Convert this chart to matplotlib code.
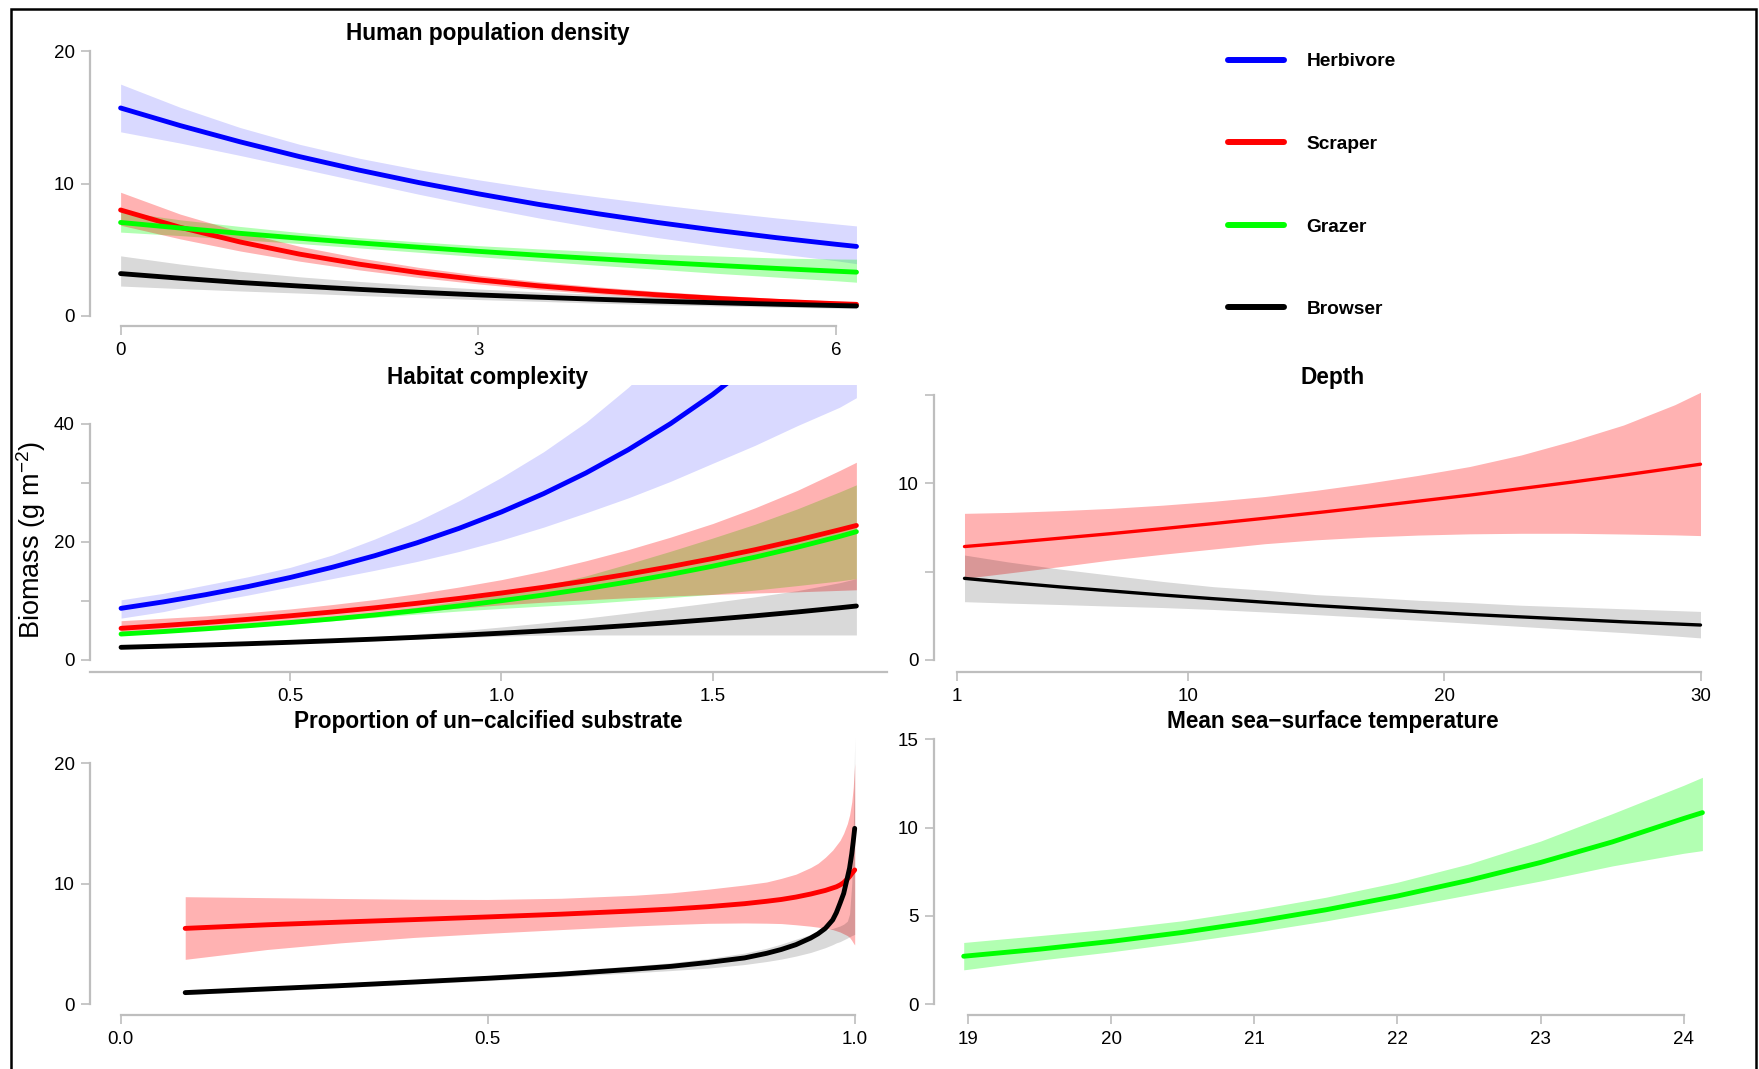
import matplotlib
matplotlib.use("Agg")
import matplotlib.pyplot as plt
from matplotlib.lines import Line2D
from matplotlib.patches import Rectangle

plt.rcParams["font.family"] = ["Liberation Sans", "DejaVu Sans"]
plt.rcParams["mathtext.fontset"] = "custom"
plt.rcParams["mathtext.rm"] = "Liberation Sans"
plt.rcParams["mathtext.it"] = "Liberation Sans:italic"

# ---------------- data ----------------
groups = ["Herbivore", "Scraper", "Grazer", "Browser"]
colors = ["#0000FF", "#FF0000", "#00FF00", "#000000"]
band_alpha = [0.15, 0.30, 0.30, 0.15]

# Panel 1: Human population density
hpd_x = [0, 0.5, 1, 1.5, 2, 2.5, 3, 3.5, 4, 4.5, 5, 5.5, 6, 6.17]
hpd_herb = [15.7, 14.37, 13.15, 12.03, 11.01, 10.07, 9.22, 8.43, 7.72, 7.06, 6.46, 5.91, 5.41, 5.25]
hpd_herb_hi = [17.5, 15.75, 14.23, 12.96, 11.91, 11.04, 10.28, 9.59, 8.99, 8.42, 7.89, 7.40, 6.95, 6.80]
hpd_herb_lo = [13.9, 13.05, 12.12, 11.15, 10.17, 9.19, 8.27, 7.41, 6.63, 5.92, 5.29, 4.72, 4.17, 3.95]
hpd_scr = [8.0, 6.69, 5.59, 4.67, 3.91, 3.27, 2.73, 2.28, 1.91, 1.60, 1.33, 1.11, 0.93, 0.88]
hpd_scr_hi = [9.34, 7.69, 6.37, 5.26, 4.39, 3.67, 3.08, 2.60, 2.20, 1.86, 1.57, 1.33, 1.13, 1.07]
hpd_scr_lo = [6.85, 5.82, 4.91, 4.14, 3.48, 2.91, 2.42, 2.00, 1.66, 1.38, 1.13, 0.93, 0.77, 0.72]
hpd_graz = [7.06, 6.64, 6.24, 5.87, 5.52, 5.19, 4.88, 4.59, 4.32, 4.06, 3.82, 3.59, 3.38, 3.31]
hpd_graz_hi = [7.88, 7.26, 6.76, 6.30, 5.92, 5.59, 5.31, 5.07, 4.87, 4.67, 4.53, 4.38, 4.30, 4.29]
hpd_graz_lo = [6.33, 6.07, 5.76, 5.47, 5.14, 4.81, 4.48, 4.15, 3.83, 3.53, 3.22, 2.94, 2.66, 2.55]
hpd_brow = [3.2, 2.85, 2.53, 2.26, 2.01, 1.79, 1.59, 1.42, 1.26, 1.12, 1.00, 0.89, 0.79, 0.76]
hpd_brow_hi = [4.54, 3.92, 3.38, 2.96, 2.61, 2.30, 2.04, 1.82, 1.63, 1.47, 1.32, 1.19, 1.07, 1.03]
hpd_brow_lo = [2.26, 2.07, 1.89, 1.73, 1.55, 1.39, 1.24, 1.11, 0.97, 0.85, 0.76, 0.67, 0.59, 0.56]

# Panel 2: Habitat complexity
hab_x = [0.1, 0.2, 0.3, 0.4, 0.5, 0.6, 0.7, 0.8, 0.9, 1.0, 1.1, 1.2, 1.3, 1.4, 1.5, 1.6, 1.7, 1.8, 1.84]
hab_herb = [8.76, 9.85, 11.07, 12.44, 13.98, 15.72, 17.67, 19.86, 22.32, 25.09, 28.20, 31.70, 35.63, 40.05, 45.01, 50.6, 56.9, 63.9, 67.0]
hab_herb_hi = [10.2, 11.3, 12.7, 14.1, 15.7, 17.8, 20.5, 23.5, 27.0, 30.96, 35.31, 40.29, 46.21, 52.99, 60.76, 70.4, 81.5, 95.3, 101.0]
hab_herb_lo = [7.1, 8.2, 9.7, 11.0, 12.4, 13.8, 15.2, 16.7, 18.4, 20.33, 22.52, 24.94, 27.47, 30.27, 33.34, 36.38, 39.71, 42.83, 44.46]
hab_scr = [5.37, 5.84, 6.34, 6.89, 7.49, 8.14, 8.84, 9.61, 10.44, 11.35, 12.33, 13.40, 14.56, 15.83, 17.20, 18.69, 20.31, 22.07, 22.8]
hab_scr_hi = [6.66, 7.07, 7.48, 8.03, 8.65, 9.40, 10.25, 11.24, 12.37, 13.62, 15.10, 16.82, 18.71, 20.82, 23.13, 25.79, 28.74, 32.11, 33.52]
hab_scr_lo = [4.4, 4.9, 5.4, 5.9, 6.45, 7.0, 7.6, 8.2, 8.8, 9.35, 9.8, 10.2, 10.55, 10.85, 11.1, 11.35, 11.55, 11.8, 11.9]
hab_graz = [4.40, 4.82, 5.29, 5.80, 6.35, 6.96, 7.63, 8.37, 9.17, 10.05, 11.02, 12.08, 13.24, 14.51, 15.90, 17.43, 19.11, 20.94, 21.75]
hab_graz_hi = [4.62, 5.04, 5.50, 6.03, 6.60, 7.27, 8.05, 8.96, 10.00, 11.16, 12.56, 14.25, 16.29, 18.43, 20.67, 23.01, 25.61, 28.48, 29.69]
hab_graz_lo = [4.18, 4.60, 5.08, 5.57, 6.10, 6.65, 7.21, 7.78, 8.30, 8.74, 9.15, 9.54, 10.06, 10.59, 11.13, 11.85, 12.61, 13.40, 13.79]
hab_brow = [2.15, 2.34, 2.54, 2.76, 3.00, 3.26, 3.54, 3.85, 4.18, 4.55, 4.94, 5.37, 5.84, 6.34, 6.89, 7.49, 8.14, 8.85, 9.15]
hab_brow_hi = [2.3, 2.5, 2.72, 2.96, 3.24, 3.56, 3.94, 4.4, 4.95, 5.6, 6.3, 7.1, 7.95, 8.85, 9.75, 10.7, 11.75, 13.1, 13.8]
hab_brow_lo = [2.0, 2.2, 2.4, 2.6, 2.82, 3.05, 3.3, 3.55, 3.8, 4.05, 4.22, 4.24, 4.24, 4.24, 4.24, 4.24, 4.24, 4.24, 4.24]

# Panel 3: Depth
dep_x = [1.3, 3, 5, 7, 9, 11, 13, 15, 17, 19, 21, 23, 25, 27, 29, 30]
dep_scr = [6.42, 6.63, 6.89, 7.15, 7.43, 7.72, 8.02, 8.33, 8.65, 8.99, 9.33, 9.70, 10.07, 10.46, 10.87, 11.08]
dep_scr_hi = [8.3, 8.35, 8.45, 8.58, 8.76, 8.98, 9.25, 9.6, 10.0, 10.45, 10.95, 11.6, 12.4, 13.3, 14.45, 15.15]
dep_scr_lo = [4.62, 4.92, 5.28, 5.66, 5.98, 6.28, 6.58, 6.8, 6.96, 7.07, 7.14, 7.17, 7.17, 7.13, 7.08, 7.04]
dep_brow = [4.62, 4.39, 4.14, 3.91, 3.68, 3.47, 3.27, 3.08, 2.91, 2.74, 2.58, 2.44, 2.30, 2.16, 2.04, 1.98]
dep_brow_hi = [5.94, 5.55, 5.15, 4.8, 4.45, 4.15, 3.95, 3.7, 3.55, 3.38, 3.25, 3.1, 3.0, 2.9, 2.8, 2.75]
dep_brow_lo = [3.30, 3.22, 3.14, 3.05, 2.97, 2.86, 2.72, 2.57, 2.41, 2.25, 2.08, 1.9, 1.72, 1.55, 1.36, 1.25]

# Panel 4: Proportion of un-calcified substrate
unc_x = [0.088, 0.2, 0.3, 0.4, 0.5, 0.6, 0.7, 0.75, 0.8, 0.85, 0.88, 0.9, 0.92, 0.94, 0.95,
         0.96, 0.97, 0.975, 0.98, 0.985, 0.99, 0.993, 0.996, 0.998, 1.0]
unc_scr = [6.3, 6.6, 6.82, 7.03, 7.25, 7.48, 7.75, 7.9, 8.1, 8.35, 8.55, 8.7, 8.9, 9.15, 9.3,
           9.45, 9.65, 9.75, 9.9, 10.1, 10.4, 10.6, 10.85, 11.0, 11.15]
unc_scr_hi = [8.93, 8.85, 8.78, 8.72, 8.7, 8.8, 9.05, 9.25, 9.55, 9.9, 10.15, 10.45, 10.8, 11.35, 11.7,
              12.2, 12.8, 13.2, 13.6, 14.2, 15.0, 15.7, 16.8, 18.0, 20.0]
unc_scr_lo = [3.73, 4.55, 5.1, 5.55, 5.89, 6.2, 6.5, 6.62, 6.72, 6.75, 6.73, 6.7, 6.6, 6.48, 6.4,
              6.3, 6.2, 6.1, 6.0, 5.85, 5.7, 5.55, 5.3, 5.1, 4.92]
unc_brow = [0.97, 1.28, 1.55, 1.85, 2.16, 2.5, 2.92, 3.15, 3.47, 3.85, 4.23, 4.55, 4.95, 5.5, 5.85,
            6.3, 7.0, 7.6, 8.38, 9.2, 10.5, 11.3, 12.5, 13.5, 14.6]
unc_brow_hi = [1.15, 1.47, 1.75, 2.05, 2.38, 2.75, 3.2, 3.45, 3.8, 4.25, 4.65, 5.0, 5.4, 5.8, 6.0,
               6.15, 6.3, 6.4, 6.5, 6.65, 6.9, 7.5, 10.0, 14.0, 22.2]
unc_brow_lo = [0.8, 1.1, 1.38, 1.67, 1.96, 2.28, 2.62, 2.8, 3.0, 3.3, 3.55, 3.75, 4.0, 4.3, 4.5,
               4.7, 4.95, 5.1, 5.2, 5.35, 5.5, 5.6, 5.7, 5.75, 5.8]

# Panel 5: Mean sea-surface temperature
sst_x = [18.97, 19.5, 20, 20.5, 21, 21.5, 22, 22.5, 23, 23.5, 24, 24.13]
sst_graz = [2.72, 3.12, 3.56, 4.07, 4.67, 5.35, 6.13, 7.02, 8.03, 9.19, 10.52, 10.85]
sst_graz_hi = [3.5, 3.89, 4.26, 4.73, 5.35, 6.06, 6.91, 7.95, 9.24, 10.79, 12.4, 12.85]
sst_graz_lo = [1.95, 2.50, 2.97, 3.50, 4.08, 4.72, 5.44, 6.20, 6.98, 7.83, 8.55, 8.7]

titles = ["Human population density", "Habitat complexity", "Depth",
          "Proportion of un\u2212calcified substrate", "Mean sea\u2212surface temperature"]
ylabel = r"Biomass (g m$^{-2}$)"

# ---------------- layout helpers ----------------
W, H = 1759, 1069
fig = plt.figure(figsize=(W / 100, H / 100), dpi=100)

AXIS_GREY = "#BEBEBE"
TICK_FS = 13.5
# order in which confidence bands are painted (grazer under scraper)
BAND_ORDER = [0, 2, 1, 3]


def make_ax(box, xmap, ymap, xspine_px, yspine_px, xb_px, yb, xticks, yticks, ylabels):
    L, T, R, B = box
    ax = fig.add_axes([L / W, 1 - B / H, (R - L) / W, (B - T) / H])
    (xv1, xp1), (xv2, xp2) = xmap
    sx = (xp2 - xp1) / (xv2 - xv1)
    ax.set_xlim(xv1 + (L - xp1) / sx, xv1 + (R - xp1) / sx)
    (yv1, yp1), (yv2, yp2) = ymap
    sy = (yp2 - yp1) / (yv2 - yv1)
    ax.set_ylim(yv1 + (B - yp1) / sy, yv1 + (T - yp1) / sy)
    for s in ("top", "right"):
        ax.spines[s].set_visible(False)
    ax.spines["left"].set_position(("axes", (xspine_px - L) / (R - L)))
    ax.spines["bottom"].set_position(("axes", (B - yspine_px) / (B - T)))
    ax.spines["left"].set_bounds(*yb)
    xb = [xv1 + (p - xp1) / sx for p in xb_px]
    ax.spines["bottom"].set_bounds(*xb)
    for s in ("left", "bottom"):
        ax.spines[s].set_color(AXIS_GREY)
        ax.spines[s].set_linewidth(1.6)
    ax.set_xticks(xticks)
    ax.set_yticks(yticks)
    ax.set_yticklabels(ylabels)
    ax.tick_params(axis="both", colors=AXIS_GREY, labelcolor="black", length=6.5,
                   width=1.2, labelsize=TICK_FS)
    ax.tick_params(axis="y", pad=4.5)
    ax.tick_params(axis="x", pad=5.3)
    ax.patch.set_visible(False)
    return ax


def draw(ax, x, series, idx, lw):
    pairs = sorted(zip(series, idx), key=lambda p: BAND_ORDER.index(p[1]))
    for (m, lo, hi), i in pairs:
        ax.fill_between(x, lo, hi, color=colors[i], alpha=band_alpha[i], linewidth=0)
    for (m, lo, hi), i in zip(series, idx):
        ax.plot(x, m, color=colors[i], lw=lw, solid_capstyle="round")


# Panel 1
ax1 = make_ax((110, 45, 870, 320), ((0, 120.6), (6, 836.2)), ((0, 316), (20, 51)),
              90, 326, (120.6, 836.2), (0, 20), [0, 3, 6], [0, 10, 20], ["0", "10", "20"])
ax1.set_xticklabels(["0", "3", "6"])
draw(ax1, hpd_x, [(hpd_herb, hpd_herb_lo, hpd_herb_hi), (hpd_scr, hpd_scr_lo, hpd_scr_hi),
                  (hpd_graz, hpd_graz_lo, hpd_graz_hi), (hpd_brow, hpd_brow_lo, hpd_brow_hi)],
     [0, 1, 2, 3], 3.5)

# Panel 2
ax2 = make_ax((110, 385, 870, 665), ((0.5, 290.1), (1.5, 712.7)), ((0, 660), (40, 424)),
              90, 672, (90, 887), (0, 40), [0.5, 1.0, 1.5], [0, 10, 20, 30, 40],
              ["0", "", "20", "", "40"])
ax2.set_xticklabels(["0.5", "1.0", "1.5"])
draw(ax2, hab_x, [(hab_herb, hab_herb_lo, hab_herb_hi), (hab_scr, hab_scr_lo, hab_scr_hi),
                  (hab_graz, hab_graz_lo, hab_graz_hi), (hab_brow, hab_brow_lo, hab_brow_hi)],
     [0, 1, 2, 3], 3.5)

# Panel 3
ax3 = make_ax((945, 385, 1710, 665), ((1, 956.8), (30, 1700.5)), ((0, 660), (10, 483.3)),
              934, 672, (956.8, 1700.5), (0, 15), [1, 10, 20, 30], [0, 5, 10, 15],
              ["0", "", "10", ""])
ax3.set_xticklabels(["1", "10", "20", "30"])
draw(ax3, dep_x, [(dep_scr, dep_scr_lo, dep_scr_hi), (dep_brow, dep_brow_lo, dep_brow_hi)],
     [1, 3], 2.4)

# Panel 4
ax4 = make_ax((110, 730, 870, 1008), ((0, 120.6), (1, 854.7)), ((0, 1004.3), (20, 763.3)),
              90, 1015, (120.6, 854.7), (0, 20), [0, 0.5, 1.0], [0, 10, 20], ["0", "10", "20"])
ax4.set_xticklabels(["0.0", "0.5", "1.0"])
draw(ax4, unc_x, [(unc_scr, unc_scr_lo, unc_scr_hi), (unc_brow, unc_brow_lo, unc_brow_hi)],
     [1, 3], 3.5)

# Panel 5
ax5 = make_ax((945, 730, 1710, 1008), ((19, 968), (24, 1683.8)), ((0, 1004.3), (15, 739.3)),
              934, 1015, (968, 1683.8), (0, 15), [19, 20, 21, 22, 23, 24], [0, 5, 10, 15],
              ["0", "5", "10", "15"])
ax5.set_xticklabels(["19", "20", "21", "22", "23", "24"])
draw(ax5, sst_x, [(sst_graz, sst_graz_lo, sst_graz_hi)], [2], 3.5)

# Titles
title_pos = [(488, 40), (488, 384), (1333, 384), (488, 728), (1333, 728)]
for t, (px, py) in zip(titles, title_pos):
    fig.text(px / W, 1 - py / H, t, ha="center", va="baseline", fontsize=16.3,
             fontweight="bold")

# Y label
fig.text(31 / W, 1 - 540 / H, ylabel, rotation=90, ha="center", va="center", fontsize=19.5)

# Legend
handles = [Line2D([], [], color=c, lw=4.3, solid_capstyle="round") for c in colors]
fig.legend(handles, groups, loc="upper left", bbox_to_anchor=(1228 / W, 1 - 53 / H),
           frameon=False, borderpad=0, borderaxespad=0, handlelength=2.9,
           handletextpad=1.2, labelspacing=3.40, prop={"weight": "bold", "size": 13.8})

# Outer frame
fig.add_artist(Rectangle((11 / W, -0.05), (1756 - 11) / W, 1.05 - 9 / H,
                         transform=fig.transFigure, fill=False, ec="black", lw=1.8))

fig.savefig("out.png", dpi=100)
